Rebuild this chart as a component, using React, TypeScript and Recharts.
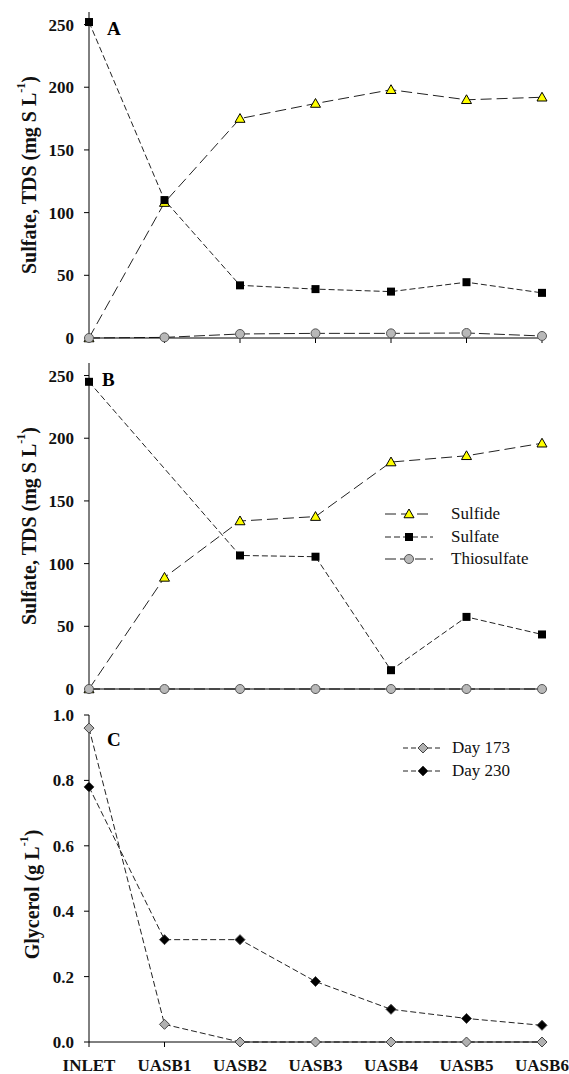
import { LineChart, Line, XAxis, YAxis, Legend } from 'recharts'

const stations = ['INLET', 'UASB1', 'UASB2', 'UASB3', 'UASB4', 'UASB5', 'UASB6']

// panel A
const sulfideA = [0, 108, 175, 187, 198, 190, 192]
const sulfateA = [252, 110, 42, 39, 37, 44.5, 36]
const thioA = [0, 0.5, 3.2, 3.7, 3.7, 4, 1.6]

// panel B (no sulfate reading at UASB1)
const sulfideB = [0, 89, 134, 137.5, 181, 186, 196]
const sulfateB = [245, null, 106.5, 105.5, 15, 57.5, 43.5]
const thioB = [0, 0, 0, 0, 0, 0, 0]

// panel C
const day173 = [0.96, 0.054, 0, 0, 0, 0, 0]
const day230 = [0.78, 0.313, 0.313, 0.185, 0.1, 0.072, 0.051]

const sulfurTicks = [0, 50, 100, 150, 200, 250]
const glycerolTicks = [0, 0.2, 0.4, 0.6, 0.8, 1.0]

const rowsA = stations.map((s, i) => ({ station: s, sulfide: sulfideA[i], sulfate: sulfateA[i], thio: thioA[i] }))
const rowsB = stations.map((s, i) => ({ station: s, sulfide: sulfideB[i], sulfate: sulfateB[i], thio: thioB[i] }))
const rowsC = stations.map((s, i) => ({ station: s, d173: day173[i], d230: day230[i] }))

const FONT = '"Liberation Serif", "Times New Roman", serif'
const INK = '#222'
const DASH = { sulfide: '11 5', sulfate: '6 3', thio: '11 4', glycerol: '6 3' }

function triangle(cx: number, cy: number, key?: any) {
  const s = 5
  return <polygon key={key} points={`${cx},${cy - s} ${cx - s},${cy + s * 0.75} ${cx + s},${cy + s * 0.75}`} fill="#ffff00" stroke="#000" strokeWidth={1} />
}
function square(cx: number, cy: number, key?: any) {
  return <rect key={key} x={cx - 4} y={cy - 4} width={8} height={8} fill="#000" />
}
function circle(cx: number, cy: number, key?: any) {
  return <circle key={key} cx={cx} cy={cy} r={4.5} fill="#b8b8b8" stroke="#555" strokeWidth={1} />
}
function diamond(fill: string) {
  return (cx: number, cy: number, key?: any) => (
    <polygon key={key} points={`${cx},${cy - 5} ${cx + 5},${cy} ${cx},${cy + 5} ${cx - 5},${cy}`} fill={fill} stroke="#444" strokeWidth={1} />
  )
}

const dotOf = (shape: (cx: number, cy: number, key?: any) => any) => (p: any) => {
  if (p.cx == null || p.cy == null || p.value == null) return <g key={p.index} />
  return shape(p.cx, p.cy, p.index)
}

function yTitle(main: string, cy: number, x: number) {
  return (
    <text x={x} y={cy} transform={`rotate(-90, ${x}, ${cy})`} textAnchor="middle" dominantBaseline="central"
      fontFamily={FONT} fontWeight="bold" fontSize={20} fill="#111">
      {main}
      <tspan dy={-8} fontSize={12}>-1</tspan>
      <tspan dy={8}>)</tspan>
    </text>
  )
}

function LegendBox({ items, sample, gap }: { items: { name: string; dash: string; shape: any }[]; sample: number; gap: number }) {
  return (
    <div style={{ fontFamily: FONT, fontSize: 17, color: '#111' }}>
      {items.map(it => (
        <div key={it.name} style={{ display: 'flex', alignItems: 'center', height: 22.5 }}>
          <svg width={sample} height={14} style={{ marginRight: gap }}>
            <line x1={0} y1={7} x2={sample} y2={7} stroke={INK} strokeWidth={1} strokeDasharray={it.dash} />
            {it.shape(sample / 2, 7)}
          </svg>
          <span>{it.name}</span>
        </div>
      ))}
    </div>
  )
}

const tickStyle = { fontFamily: FONT, fontWeight: 'bold' as const, fontSize: 17, fill: '#111' }

function SulfurPanel({ rows, height, top, xHeight, legend, connect }: any) {
  return (
    <LineChart width={569} height={height} data={rows} margin={{ top, right: 27, left: 0, bottom: 0 }}>
      <XAxis dataKey="station" height={xHeight} tickFormatter={() => ''} tickSize={5} stroke="#000" axisLine={{ stroke: '#000' }} />
      <XAxis xAxisId="top" dataKey="station" orientation="top" height={0} tick={false} tickLine={false} axisLine={{ stroke: '#555' }} />
      <YAxis domain={[0, 260]} ticks={sulfurTicks} width={89} tickSize={5} tickMargin={10} tick={tickStyle}
        stroke="#000" interval={0}
        label={{ content: (p: any) => yTitle('Sulfate, TDS (mg S L', p.viewBox.y + p.viewBox.height / 2, 29) }} />
      <YAxis yAxisId="right" orientation="right" domain={[0, 260]} width={0} tick={false} tickLine={false} axisLine={{ stroke: '#555' }} />
      <Line dataKey="sulfide" name="Sulfide" stroke={INK} strokeWidth={1} strokeDasharray={DASH.sulfide} dot={dotOf(triangle)} isAnimationActive={false} />
      <Line dataKey="sulfate" name="Sulfate" stroke={INK} strokeWidth={1} strokeDasharray={DASH.sulfate} dot={dotOf(square)} connectNulls={connect} isAnimationActive={false} />
      <Line dataKey="thio" name="Thiosulfate" stroke={INK} strokeWidth={1} strokeDasharray={DASH.thio} dot={dotOf(circle)} isAnimationActive={false} />
      {legend && (
        <Legend layout="vertical" align="center" verticalAlign="middle"
          wrapperStyle={{ position: 'absolute', left: 385, top: 158, width: 'auto' }}
          content={() => (
            <LegendBox sample={48} gap={18} items={[
              { name: 'Sulfide', dash: DASH.sulfide, shape: triangle },
              { name: 'Sulfate', dash: DASH.sulfate, shape: square },
              { name: 'Thiosulfate', dash: DASH.thio, shape: circle },
            ]} />
          )} />
      )}
    </LineChart>
  )
}

const letter = (ch: string, left: number, top: number) => (
  <div style={{ position: 'absolute', left, top, fontFamily: FONT, fontWeight: 'bold', fontSize: 19, lineHeight: '20px', color: '#000' }}>{ch}</div>
)

export default function App() {
  return (
    <div style={{ position: 'absolute', left: 0, top: 0, width: 569, height: 1074, background: '#fff' }}>
      <div style={{ position: 'absolute', left: 0, top: 0 }}>
        <SulfurPanel rows={rowsA} height={355} top={12} xHeight={17} legend={false} connect={false} />
      </div>
      <div style={{ position: 'absolute', left: 0, top: 345 }}>
        <SulfurPanel rows={rowsB} height={365} top={18} xHeight={21} legend={true} connect={true} />
      </div>
      <div style={{ position: 'absolute', left: 0, top: 700 }}>
        <LineChart width={569} height={374} data={rowsC} margin={{ top: 15, right: 27, left: 0, bottom: 0 }}>
          <XAxis dataKey="station" height={32} tickSize={5} tickMargin={12} tick={tickStyle} stroke="#000" interval={0} />
          <XAxis xAxisId="top" dataKey="station" orientation="top" height={0} tick={false} tickLine={false} axisLine={{ stroke: '#333' }} />
          <YAxis domain={[0, 1]} ticks={glycerolTicks} width={89} tickSize={5} tickMargin={10} tick={tickStyle}
            tickFormatter={(v: number) => v.toFixed(1)} stroke="#000" interval={0}
            label={{ content: (p: any) => yTitle('Glycerol (g L', p.viewBox.y + p.viewBox.height / 2 + 16, 32) }} />
          <YAxis yAxisId="right" orientation="right" domain={[0, 1]} width={0} tick={false} tickLine={false} axisLine={{ stroke: '#333' }} />
          <Line dataKey="d173" name="Day 173" stroke={INK} strokeWidth={1} strokeDasharray={DASH.glycerol} dot={dotOf(diamond('#b0b0b0'))} isAnimationActive={false} />
          <Line dataKey="d230" name="Day 230" stroke={INK} strokeWidth={1} strokeDasharray={DASH.glycerol} dot={dotOf(diamond('#000'))} isAnimationActive={false} />
          <Legend layout="vertical" align="center" verticalAlign="middle"
            wrapperStyle={{ position: 'absolute', left: 403, top: 37, width: 'auto' }}
            content={() => (
              <LegendBox sample={40} gap={9} items={[
                { name: 'Day 173', dash: '5 3', shape: diamond('#b0b0b0') },
                { name: 'Day 230', dash: '5 3', shape: diamond('#000') },
              ]} />
            )} />
        </LineChart>
      </div>
      {letter('A', 107, 19)}
      {letter('B', 102, 370)}
      {letter('C', 107, 730)}
    </div>
  )
}
